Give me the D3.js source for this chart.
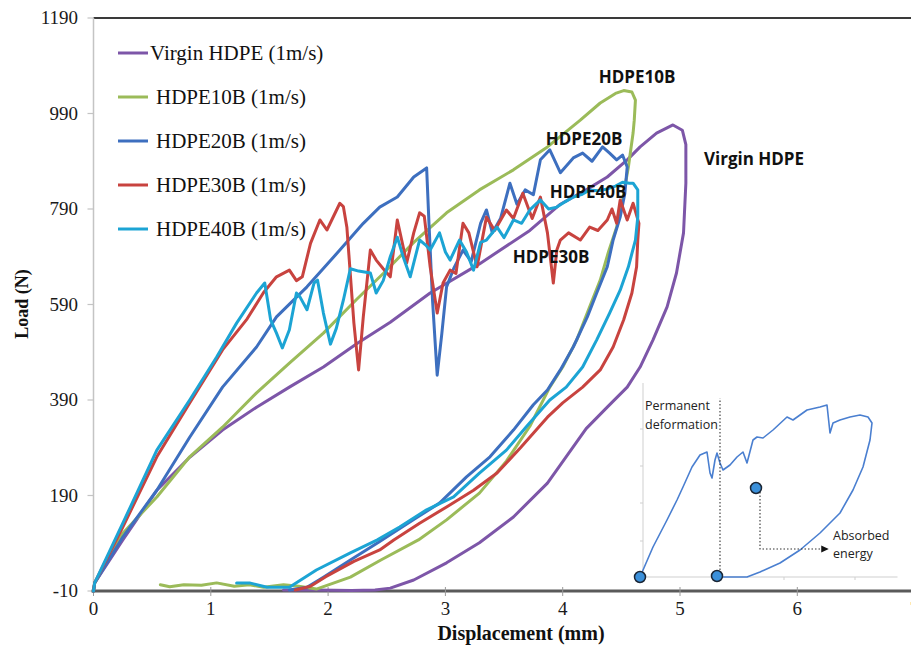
<!DOCTYPE html>
<html>
<head>
<meta charset="utf-8">
<script src="https://cdn.jsdelivr.net/npm/d3@7"></script>
<style>
  body { margin: 0; background: #fff; }
  svg { display: block; }
</style>
</head>
<body>
<svg width="911" height="649"></svg>
<script>
// Load–displacement loops, [displacement (mm), load (N)]
const virginHDPE = [
  [0,-10],[0.01,7],[0.25,97],[0.54,201],[0.82,270],[1.10,327],[1.39,375],[1.67,417],[1.96,459],
  [2.25,509],[2.53,553],[2.87,614],[3.29,675],[3.72,745],[3.98,800],[4.20,830],[4.38,857],[4.55,893],
  [4.66,920],[4.80,949],[4.94,966],[5.02,955],[5.05,925],[5.05,844],[5.03,740],[4.97,656],[4.89,585],
  [4.77,516],[4.66,459],[4.55,417],[4.38,375],[4.20,330],[3.87,216],[3.58,145],[3.29,91],[3.01,49],
  [2.73,13],[2.53,-4],[2.40,-8],[2.20,-9],[1.90,-8],[1.62,-8]
];
const hdpe10B = [
  [0,-10],[0.01,7],[0.25,111],[0.54,187],[0.82,271],[1.10,333],[1.39,405],[1.67,467],[1.96,530],
  [2.24,600],[2.47,655],[2.73,720],[3.01,782],[3.29,830],[3.58,872],[3.87,920],[4.15,976],[4.32,1012],
  [4.45,1032],[4.52,1038],[4.59,1035],[4.62,1018],[4.61,976],[4.60,949],[4.56,878],[4.51,809],
  [4.46,752],[4.39,700],[4.32,641],[4.23,585],[4.12,516],[4.00,459],[3.89,417],[3.72,335],[3.52,262],
  [3.29,195],[3.01,139],[2.77,97],[2.45,55],[2.19,19],[1.90,-6],[1.75,0],[1.62,3],[1.45,-2],[1.33,3],
  [1.20,0],[1.05,7],[0.92,2],[0.77,3],[0.65,-1],[0.57,3]
];
const hdpe20B = [
  [0,-10],[0.01,7],[0.25,103],[0.54,201],[0.82,312],[1.10,417],[1.39,501],[1.56,564],[1.82,627],
  [2.10,704],[2.30,760],[2.44,794],[2.59,815],[2.73,857],[2.84,876],[2.86,760],[2.89,600],[2.93,442],
  [2.97,530],[3.01,627],[3.07,665],[3.15,704],[3.22,680],[3.30,760],[3.35,788],[3.40,740],[3.47,770],
  [3.55,844],[3.61,800],[3.68,830],[3.75,820],[3.81,893],[3.89,914],[3.98,866],[4.09,897],[4.17,907],
  [4.25,890],[4.34,920],[4.40,907],[4.46,893],[4.51,903],[4.55,878],[4.53,823],[4.49,773],[4.43,725],
  [4.38,669],[4.29,614],[4.21,564],[4.09,501],[3.98,453],[3.87,411],[3.75,380],[3.58,327],[3.38,271],
  [3.18,229],[2.95,174],[2.73,140],[2.43,92],[2.19,55],[1.96,19],[1.82,-2],[1.67,-8]
];
const hdpe30B = [
  [0,-10],[0.01,7],[0.25,124],[0.54,271],[0.82,384],[1.10,495],[1.31,560],[1.45,615],[1.56,648],
  [1.67,662],[1.73,640],[1.78,648],[1.85,718],[1.93,767],[1.99,746],[2.10,802],[2.13,795],[2.16,752],
  [2.22,551],[2.26,453],[2.30,564],[2.36,704],[2.41,683],[2.47,665],[2.53,648],[2.59,767],[2.67,677],
  [2.73,740],[2.78,782],[2.82,775],[2.87,669],[2.93,572],[2.98,635],[3.04,662],[3.09,655],[3.15,760],
  [3.20,740],[3.27,669],[3.35,773],[3.42,745],[3.52,788],[3.58,770],[3.66,823],[3.74,770],[3.81,815],
  [3.87,740],[3.92,635],[3.95,704],[3.98,725],[4.05,740],[4.15,725],[4.23,752],[4.30,745],[4.38,767],
  [4.42,790],[4.46,760],[4.49,809],[4.55,767],[4.60,802],[4.65,760],[4.64,725],[4.63,669],[4.59,614],
  [4.52,558],[4.43,501],[4.32,453],[4.17,417],[4.00,384],[3.87,354],[3.64,290],[3.44,237],[3.24,201],
  [3.01,166],[2.78,132],[2.56,97],[2.44,76],[2.22,52],[1.98,20],[1.85,0],[1.72,-8]
];
const hdpe40B = [
  [0,-10],[0.01,7],[0.25,132],[0.54,285],[0.82,390],[1.05,480],[1.22,551],[1.39,614],[1.46,635],
  [1.51,558],[1.56,530],[1.61,499],[1.67,537],[1.73,614],[1.76,606],[1.82,579],[1.88,635],[1.91,641],
  [1.96,572],[2.02,507],[2.07,540],[2.13,599],[2.19,665],[2.26,660],[2.36,656],[2.41,614],[2.47,640],
  [2.53,690],[2.59,731],[2.64,690],[2.70,648],[2.78,725],[2.83,715],[2.87,704],[2.95,740],[3.00,700],
  [3.04,683],[3.12,725],[3.18,700],[3.24,662],[3.30,720],[3.35,725],[3.44,752],[3.50,730],[3.58,767],
  [3.65,760],[3.72,788],[3.81,809],[3.88,790],[3.95,794],[4.02,805],[4.09,815],[4.16,820],[4.23,830],
  [4.30,828],[4.38,832],[4.45,838],[4.51,846],[4.57,844],[4.60,844],[4.64,830],[4.64,773],[4.62,725],
  [4.56,669],[4.49,620],[4.40,572],[4.29,516],[4.17,459],[4.03,417],[3.89,390],[3.69,334],[3.52,285],
  [3.29,237],[3.07,187],[2.84,160],[2.61,124],[2.42,97],[2.19,70],[1.90,34],[1.67,-2],[1.48,-2],
  [1.33,7],[1.22,7]
];

const seriesNames = ["Virgin HDPE (1m/s)", "HDPE10B (1m/s)", "HDPE20B (1m/s)", "HDPE30B (1m/s)", "HDPE40B (1m/s)"];
const seriesColors = ["#7d56a8", "#9bbb59", "#3d6fbf", "#c8433f", "#1ca4d4"];
const seriesData = [virginHDPE, hdpe10B, hdpe20B, hdpe30B, hdpe40B];

const xTicks = [0, 1, 2, 3, 4, 5, 6, 7];
const yTicks = [-10, 190, 390, 590, 790, 990, 1190];

// Schematic of one loop: [relative displacement, relative load]
const schematicLoop = [
  [0,0],[0.52,1.2],[1.08,2.28],[1.48,3.08],[1.72,3.6],[2.08,4.4],[2.4,4.88],[2.68,5.0],[2.8,4.16],
  [2.88,3.96],[3.0,4.68],[3.08,4.96],[3.2,4.56],[3.32,4.28],[3.6,4.48],[3.88,4.8],[4.12,5.0],[4.28,4.56],
  [4.52,5.48],[4.68,5.6],[4.92,5.56],[5.32,5.88],[5.88,6.4],[6.12,6.28],[6.68,6.68],[7.2,6.8],[7.48,6.88],
  [7.6,5.76],[7.72,6.16],[8.0,6.28],[8.4,6.4],[8.8,6.48],[9.12,6.4],[9.28,6.16],[9.2,5.48],[8.92,4.4],
  [8.52,3.48],[8.0,2.56],[7.2,1.76],[6.4,1.08],[5.6,0.56],[4.8,0.2],[4.28,0],[3.32,0]
];
const schematicMarkers = [[0,0],[3.08,0.04],[4.64,3.56]];
const schematicYTicks = [1.44, 2.96, 4.44, 5.92];
const schematicXTicks = [2.92, 5.76, 8.6];

const svg = d3.select("svg");
const W = 911;

const x = d3.scaleLinear().domain([0, 7]).range([93.5, 914.6]);
const y = d3.scaleLinear().domain([-10, 1190]).range([591, 18]);

const serif = "'Liberation Serif', 'Times New Roman', serif";
const sans = "'Open Sans', 'Noto Sans', sans-serif";

// Frame and axes
svg.append("line").attr("x1", x(0)).attr("x2", W).attr("y1", y(1190)).attr("y2", y(1190))
  .attr("stroke", "#3a3a3a").attr("stroke-width", 2);
svg.append("line").attr("x1", x(0)).attr("x2", x(0)).attr("y1", y(1190)).attr("y2", y(-10))
  .attr("stroke", "#c4c4c4").attr("stroke-width", 1.5);

svg.append("g").selectAll("line").data(yTicks).join("line")
  .attr("x1", x(0) - 6).attr("x2", x(0)).attr("y1", d => y(d)).attr("y2", d => y(d))
  .attr("stroke", "#c4c4c4").attr("stroke-width", 1.2);
svg.append("g").selectAll("text").data(yTicks).join("text")
  .attr("x", 78).attr("y", d => y(d) + 6).attr("text-anchor", "end")
  .attr("font-family", serif).attr("font-size", 19).attr("fill", "#1a1a1a")
  .text(d => d);

svg.append("line").attr("x1", x(0) - 2).attr("x2", W).attr("y1", y(-10)).attr("y2", y(-10))
  .attr("stroke", "#5a5a5a").attr("stroke-width", 3);
svg.append("g").selectAll("line").data(xTicks).join("line")
  .attr("x1", d => x(d)).attr("x2", d => x(d)).attr("y1", y(-10) - 4).attr("y2", y(-10) + 5)
  .attr("stroke", "#9a9a9a").attr("stroke-width", 1);
svg.append("g").selectAll("text").data(xTicks).join("text")
  .attr("x", d => x(d)).attr("y", 615).attr("text-anchor", "middle")
  .attr("font-family", serif).attr("font-size", 19).attr("fill", "#1a1a1a")
  .text(d => d);

svg.append("text").attr("x", 521).attr("y", 640).attr("text-anchor", "middle")
  .attr("font-family", serif).attr("font-weight", "bold").attr("font-size", 20).attr("fill", "#111")
  .text("Displacement (mm)");
svg.append("text").attr("transform", "translate(28,304) rotate(-90)").attr("text-anchor", "middle")
  .attr("font-family", serif).attr("font-weight", "bold").attr("font-size", 18).attr("fill", "#111")
  .text("Load (N)");

// Loops
const line = d3.line().x(d => x(d[0])).y(d => y(d[1]));
svg.append("g").selectAll("path").data(seriesData).join("path")
  .attr("d", line).attr("fill", "none")
  .attr("stroke", (d, i) => seriesColors[i]).attr("stroke-width", 3)
  .attr("stroke-linejoin", "round").attr("stroke-linecap", "round");

// Legend
const legend = svg.append("g");
seriesNames.forEach((name, i) => {
  const ly = 53 + i * 44;
  legend.append("line").attr("x1", 118).attr("x2", 148).attr("y1", ly).attr("y2", ly)
    .attr("stroke", seriesColors[i]).attr("stroke-width", 3);
  legend.append("text").attr("x", i === 0 ? 150 : 156).attr("y", ly + 7)
    .attr("font-family", serif).attr("font-size", 21).attr("fill", "#111")
    .text(name);
});

// Curve labels
const curveLabels = [
  ["HDPE10B", 637, 77], ["HDPE20B", 584, 139], ["HDPE40B", 588, 192],
  ["HDPE30B", 551, 257], ["Virgin HDPE", 754, 159]
];
svg.append("g").selectAll("text").data(curveLabels).join("text")
  .attr("x", d => d[1]).attr("y", d => d[2] + 6).attr("text-anchor", "middle")
  .attr("font-family", sans).attr("font-weight", 700).attr("font-size", 17).attr("fill", "#111")
  .text(d => d[0]);

// Schematic inset
const ix = d3.scaleLinear().domain([0, 10]).range([640, 890]);
const iy = d3.scaleLinear().domain([0, 7]).range([577, 402]);
const inset = svg.append("g");

inset.append("line").attr("x1", ix(0.12)).attr("x2", ix(0.12)).attr("y1", iy(0)).attr("y2", iy(7.76))
  .attr("stroke", "#cfcfcf").attr("stroke-width", 1);
inset.append("line").attr("x1", ix(0)).attr("x2", ix(10.3)).attr("y1", iy(0)).attr("y2", iy(0))
  .attr("stroke", "#cfcfcf").attr("stroke-width", 1);
inset.selectAll(".yt").data(schematicYTicks).join("line").attr("class", "yt")
  .attr("x1", ix(0.12) - 3).attr("x2", ix(0.12)).attr("y1", d => iy(d)).attr("y2", d => iy(d))
  .attr("stroke", "#cfcfcf");
inset.selectAll(".xt").data(schematicXTicks).join("line").attr("class", "xt")
  .attr("x1", d => ix(d)).attr("x2", d => ix(d)).attr("y1", iy(0)).attr("y2", iy(0) + 3)
  .attr("stroke", "#cfcfcf");

const iline = d3.line().x(d => ix(d[0])).y(d => iy(d[1]));
inset.append("path").attr("d", iline(schematicLoop)).attr("fill", "none")
  .attr("stroke", "#4a7fd0").attr("stroke-width", 1.6).attr("stroke-linejoin", "round");

// Permanent deformation marker
inset.append("line").attr("x1", ix(3.2)).attr("x2", ix(3.2)).attr("y1", iy(0)).attr("y2", iy(7.15))
  .attr("stroke", "#333").attr("stroke-width", 1.1).attr("stroke-dasharray", "1.5,2");
// Absorbed energy pointer
inset.append("path")
  .attr("d", iline([[4.8, 3.4], [4.8, 1.12], [7.3, 1.12]]))
  .attr("fill", "none").attr("stroke", "#333").attr("stroke-width", 1.1).attr("stroke-dasharray", "1.5,2");
inset.append("path")
  .attr("d", `M${ix(7.25)},${iy(1.12) - 3.5}L${ix(7.55)},${iy(1.12)}L${ix(7.25)},${iy(1.12) + 3.5}Z`)
  .attr("fill", "#111");

inset.selectAll("circle").data(schematicMarkers).join("circle")
  .attr("cx", d => ix(d[0])).attr("cy", d => iy(d[1])).attr("r", 5.5)
  .attr("fill", "#3b90da").attr("stroke", "#1b2635").attr("stroke-width", 1.5);

const insetText = [["Permanent", 0.2, 6.7], ["deformation", 0.2, 5.94], ["Absorbed", 7.72, 1.48], ["energy", 7.72, 0.76]];
inset.selectAll("text").data(insetText).join("text")
  .attr("x", d => ix(d[1])).attr("y", d => iy(d[2]))
  .attr("font-family", sans).attr("font-size", 12.5).attr("fill", "#222")
  .text(d => d[0]);
</script>
</body>
</html>
